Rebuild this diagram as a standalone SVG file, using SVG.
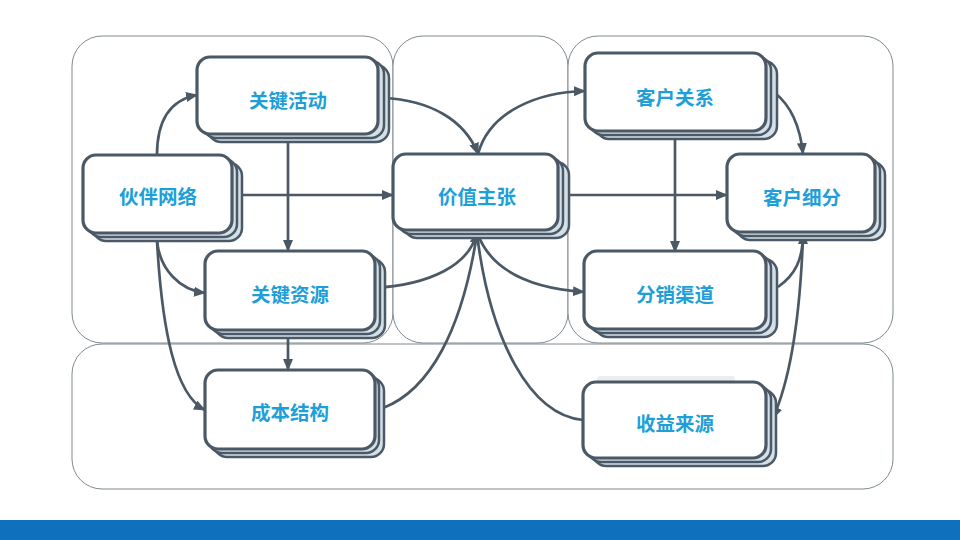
<svg xmlns="http://www.w3.org/2000/svg" width="960" height="540" viewBox="0 0 960 540">
<defs>
<style>
.panel{fill:#ffffff;stroke:#7E898F;stroke-width:1}
.back{fill:#D4E0E8;stroke:#4A5965;stroke-width:2.5}
.front{fill:#ffffff;stroke:#4A5965;stroke-width:3.2}
.lbl{font-family:"Noto Sans CJK SC","Noto Sans",sans-serif;font-size:19.5px;font-weight:bold;fill:#1E9FD8;text-anchor:middle;dominant-baseline:central}
.cn{fill:none;stroke:#4A5965;stroke-width:2.7}
.arr{marker-end:url(#ah)}
</style>
<marker id="ah" viewBox="0 0 12 10" refX="11" refY="5" markerWidth="12" markerHeight="10" markerUnits="userSpaceOnUse" orient="auto">
<path d="M0,0 L12,5 L0,10 Z" fill="#4A5965"/>
</marker>
</defs>
<rect width="960" height="540" fill="#ffffff"/>
<g id="panels">
<rect class="panel" x="72" y="36" width="321" height="307" rx="30"/>
<rect class="panel" x="393" y="36" width="175" height="307" rx="30"/>
<rect class="panel" x="568" y="36" width="325" height="307" rx="30"/>
<rect class="panel" x="72" y="344" width="821" height="145" rx="30"/>
</g>
<rect x="0" y="520" width="960" height="20" fill="#0F70BE"/>
<rect x="597" y="376" width="138" height="10" rx="3" fill="#ECEDEE"/>
<g id="connectors">
<path class="cn arr" d="M157,155 C157,120 170,100 197,95"/>
<path class="cn arr" d="M157,241 C160,270 180,290 205,293"/>
<path class="cn arr" d="M157,241 C162,330 175,395 205,410"/>
<path class="cn arr" d="M243,195 L393,195"/>
<path class="cn arr" d="M288,142 L288,251"/>
<path class="cn arr" d="M288,338 L288,370"/>
<path class="cn arr" d="M383,98 C430,100 465,120 478,154"/>
<path class="cn arr" d="M478,154 C490,110 540,92 585,91"/>
<path class="cn arr" d="M570,195 L727,195"/>
<path class="cn arr" d="M675,139 L675,252"/>
<path class="cn arr" d="M775,93 C790,105 800,125 803,154"/>
<path class="cn arr" d="M778,287 C795,275 803,260 803,233"/>
<path class="cn arr" d="M803,236 C800,320 790,380 773,418"/>
<path class="cn" d="M383,408 C430,390 462,330 477,234"/>
<path class="cn" d="M583,420 C530,415 490,340 477,234"/>
<path class="cn arr" d="M373,288 C430,285 470,265 477,232"/>
<path class="cn arr" d="M477,232 C490,270 530,288 584,292"/>
</g>
<g id="n-huoban">
<rect class="back" x="93" y="163" width="149" height="78" rx="13"/>
<rect class="back" x="88" y="159" width="149" height="78" rx="13"/>
<rect class="front" x="83" y="155" width="149" height="78" rx="13"/>
<text class="lbl" x="158" y="195">伙伴网络</text>
</g>
<g id="n-huodong">
<rect class="back" x="208" y="65" width="181" height="77" rx="13"/>
<rect class="back" x="203" y="61" width="181" height="77" rx="13"/>
<rect class="front" x="197" y="57" width="181" height="77" rx="13"/>
<text class="lbl" x="288" y="99">关键活动</text>
</g>
<g id="n-ziyuan">
<rect class="back" x="215" y="259" width="170" height="79" rx="13"/>
<rect class="back" x="210" y="255" width="170" height="79" rx="13"/>
<rect class="front" x="205" y="251" width="170" height="79" rx="13"/>
<text class="lbl" x="290" y="293">关键资源</text>
</g>
<g id="n-chengben">
<rect class="back" x="214" y="378" width="170" height="79" rx="13"/>
<rect class="back" x="209" y="374" width="170" height="79" rx="13"/>
<rect class="front" x="205" y="370" width="170" height="79" rx="13"/>
<text class="lbl" x="290" y="411">成本结构</text>
</g>
<g id="n-jiazhi">
<rect class="back" x="404" y="162" width="165" height="76" rx="13"/>
<rect class="back" x="398" y="158" width="165" height="76" rx="13"/>
<rect class="front" x="393" y="154" width="165" height="76" rx="13"/>
<text class="lbl" x="477" y="195">价值主张</text>
</g>
<g id="n-guanxi">
<rect class="back" x="596" y="61" width="181" height="78" rx="13"/>
<rect class="back" x="590" y="57" width="181" height="78" rx="13"/>
<rect class="front" x="585" y="53" width="181" height="78" rx="13"/>
<text class="lbl" x="675" y="96">客户关系</text>
</g>
<g id="n-xifen">
<rect class="back" x="737" y="162" width="148" height="78" rx="13"/>
<rect class="back" x="732" y="158" width="148" height="78" rx="13"/>
<rect class="front" x="727" y="154" width="148" height="78" rx="13"/>
<text class="lbl" x="802" y="196">客户细分</text>
</g>
<g id="n-qudao">
<rect class="back" x="595" y="259" width="182" height="78" rx="13"/>
<rect class="back" x="589" y="255" width="182" height="78" rx="13"/>
<rect class="front" x="584" y="251" width="182" height="78" rx="13"/>
<text class="lbl" x="675" y="293">分销渠道</text>
</g>
<g id="n-shouyi">
<rect class="back" x="593" y="390" width="183" height="76" rx="13"/>
<rect class="back" x="588" y="386" width="183" height="76" rx="13"/>
<rect class="front" x="583" y="382" width="183" height="76" rx="13"/>
<text class="lbl" x="675" y="422">收益来源</text>
</g>
</svg>
